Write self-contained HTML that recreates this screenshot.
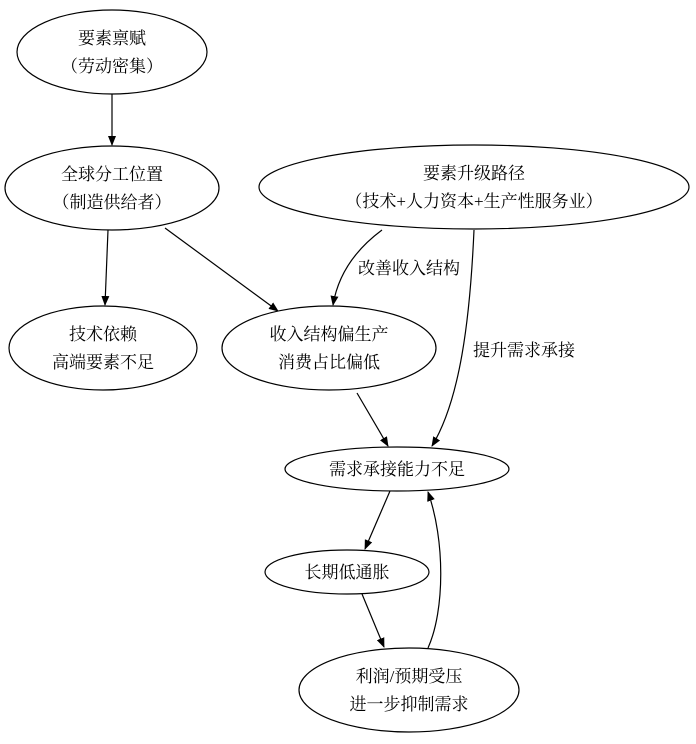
<!DOCTYPE html>
<html><head><meta charset="utf-8"><style>html,body{margin:0;padding:0;background:#fff}svg{display:block}text{font-family:"Liberation Serif","Noto Serif CJK SC","Noto Sans CJK SC",serif;font-size:17px;fill:#000}</style></head>
<body>
<svg width="696" height="744" viewBox="0 0 696 744" xmlns="http://www.w3.org/2000/svg">
<defs><marker id="a" markerWidth="10" markerHeight="8" refX="9" refY="4" orient="auto" markerUnits="userSpaceOnUse"><path d="M0,0 L10,4 L0,8 Z" fill="#000"/></marker></defs>
<g fill="none" stroke="#000" stroke-width="1.2">
<ellipse cx="112" cy="52" rx="95" ry="42"/>
<ellipse cx="112" cy="188" rx="107" ry="42"/>
<ellipse cx="474" cy="187" rx="215" ry="42"/>
<ellipse cx="103" cy="348" rx="94" ry="42"/>
<ellipse cx="329" cy="348" rx="107" ry="42"/>
<ellipse cx="397" cy="469" rx="112" ry="22"/>
<ellipse cx="347" cy="572" rx="82" ry="22"/>
<ellipse cx="409" cy="690" rx="110" ry="42"/>
<path d="M112,94 L112,145" marker-end="url(#a)"/>
<path d="M108,230 L105,305" marker-end="url(#a)"/>
<path d="M165,228 L278,311" marker-end="url(#a)"/>
<path d="M382,230 C355,250 338,275 333,305" marker-end="url(#a)"/>
<path d="M474,230 C470,320 460,400 432,446" marker-end="url(#a)"/>
<path d="M357,393 L388,446" marker-end="url(#a)"/>
<path d="M390,491 L365,549" marker-end="url(#a)"/>
<path d="M362,594 L384,647" marker-end="url(#a)"/>
<path d="M428,648 C445,610 445,540 428,492" marker-end="url(#a)"/>
</g>
<g text-anchor="middle">
<text x="112" y="44">要素禀赋</text><text x="112" y="72">（劳动密集）</text>
<text x="112" y="180">全球分工位置</text><text x="112" y="208">（制造供给者）</text>
<text x="474" y="179">要素升级路径</text><text x="474" y="207">（技术+人力资本+生产性服务业）</text>
<text x="103" y="340">技术依赖</text><text x="103" y="368">高端要素不足</text>
<text x="329" y="340">收入结构偏生产</text><text x="329" y="368">消费占比偏低</text>
<text x="397" y="475">需求承接能力不足</text>
<text x="347" y="578">长期低通胀</text>
<text x="409" y="682">利润/预期受压</text><text x="409" y="710">进一步抑制需求</text>
<text x="409" y="274">改善收入结构</text>
<text x="524" y="356">提升需求承接</text>
</g>
</svg>
</body></html>
